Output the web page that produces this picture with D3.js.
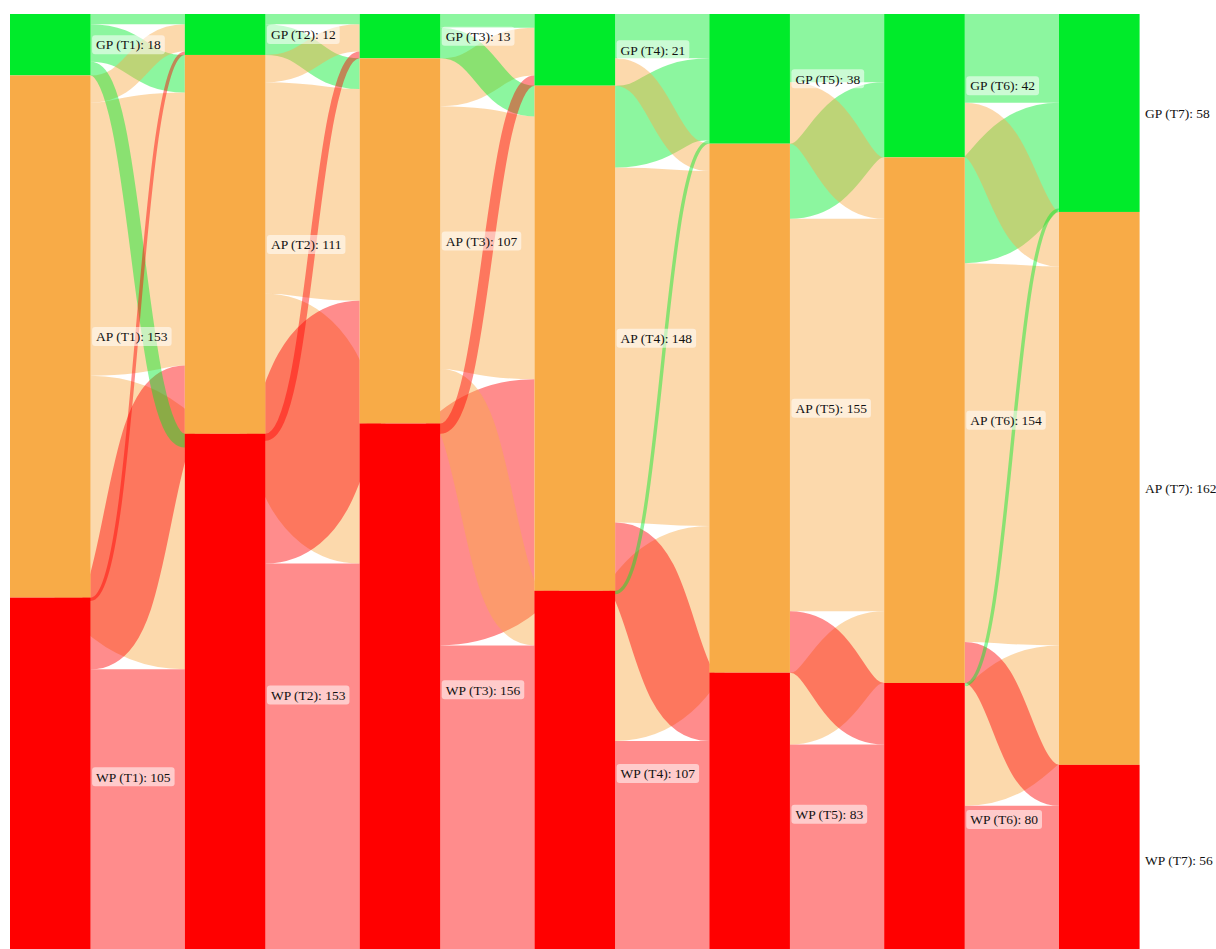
<!DOCTYPE html>
<html>
<head>
<meta charset="utf-8">
<script src="https://cdn.jsdelivr.net/npm/d3@7/dist/d3.min.js"></script>
<style>
  html, body { margin: 0; padding: 0; background: #fff; }
  svg { display: block; }
  .lbl { font-family: "Liberation Serif", "Times New Roman", serif; font-size: 13.5px; fill: #111; }
</style>
</head>
<body>
<svg id="chart" width="1216" height="949"></svg>
<script>
// ---------------- DATA ----------------
const timeLabels = ["T1", "T2", "T3", "T4", "T5", "T6", "T7"];
const states = ["GP", "AP", "WP"];
const gpValues = [18, 12, 13, 21, 38, 42, 58];
const apValues = [153, 111, 107, 148, 155, 154, 162];
const wpValues = [105, 153, 156, 107, 83, 80, 56];

// flows[from][to], rows/cols ordered GP, AP, WP
const flowsT1T2 = [[3, 11, 4], [8, 80, 65], [1, 20, 84]];
const flowsT2T3 = [[3, 9, 0], [8, 62, 41], [2, 36, 115]];
const flowsT3T4 = [[4, 9, 0], [14, 77, 16], [3, 62, 91]];
const flowsT4T5 = [[13, 8, 0], [24, 104, 20], [1, 43, 63]];
const flowsT5T6 = [[20, 18, 0], [22, 115, 18], [0, 21, 62]];
const flowsT6T7 = [[26, 16, 0], [31, 111, 12], [1, 35, 44]];
const transitions = [flowsT1T2, flowsT2T3, flowsT3T4, flowsT4T5, flowsT5T6, flowsT6T7];

// ---------------- STYLE ----------------
const stateColors = { GP: "#00eb2a", AP: "#f8ab47", WP: "#ff0000" };
const linkColorBy = ["source", "source", "source", "target", "target", "target"];
const linkOpacity = 0.45;
const nodeWidth = 80.6;

// ---------------- LAYOUT ----------------
const svg = d3.select("#chart");
const valuesByState = [gpValues, apValues, wpValues];
const total = d3.sum(valuesByState, v => v[0]);

const x = d3.scalePoint().domain(timeLabels).range([10, 1059]);
const y = d3.scaleLinear().domain([0, total]).range([14, 956]);
const k = y(1) - y(0);

// nodes
const nodes = [];
timeLabels.forEach((t, c) => {
  let cum = 0;
  states.forEach((s, i) => {
    const v = valuesByState[i][c];
    nodes.push({ time: t, col: c, state: s, idx: i, value: v, cum: cum,
                 y0: y(cum), y1: y(cum + v), x0: x(t), x1: x(t) + nodeWidth });
    cum += v;
  });
});
const nodeAt = (c, i) => nodes[c * 3 + i];

// links
const links = [];
transitions.forEach((flows, c) => {
  const srcPos = flows.map(() => []);
  flows.forEach((row, i) => {
    let off = 0;
    row.forEach((v, j) => { srcPos[i][j] = off; off += v; });
  });
  const tgtPos = flows.map(() => []);
  for (let j = 0; j < 3; j++) {
    let off = 0;
    for (let i = 0; i < 3; i++) { tgtPos[i][j] = off; off += flows[i][j]; }
  }
  flows.forEach((row, i) => {
    row.forEach((v, j) => {
      if (v <= 0) return;
      const sN = nodeAt(c, i), tN = nodeAt(c + 1, j);
      links.push({
        value: v,
        source: [sN.x1, y(sN.cum + srcPos[i][j] + v / 2)],
        target: [tN.x0, y(tN.cum + tgtPos[i][j] + v / 2)],
        color: stateColors[linkColorBy[c] === "source" ? states[i] : states[j]]
      });
    });
  });
});
// thicker links underneath, thinner ones on top
links.sort((a, b) => d3.descending(a.value, b.value));

const linkGen = d3.linkHorizontal().x(d => d[0]).y(d => d[1]);

svg.append("g")
  .selectAll("path")
  .data(links)
  .join("path")
  .attr("d", d => linkGen({ source: d.source, target: d.target }))
  .attr("fill", "none")
  .attr("stroke", d => d.color)
  .attr("stroke-opacity", linkOpacity)
  .attr("stroke-width", d => d.value * k);

svg.append("g")
  .selectAll("rect")
  .data(nodes)
  .join("rect")
  .attr("x", d => d.x0)
  .attr("y", d => d.y0)
  .attr("width", d => d.x1 - d.x0)
  .attr("height", d => d.y1 - d.y0)
  .attr("fill", d => stateColors[d.state]);

// labels
const lg = svg.append("g");
nodes.forEach(n => {
  const g = lg.append("g");
  const cy = (n.y0 + n.y1) / 2;
  const tx = n.x1 + 5.5;
  const txt = g.append("text")
    .attr("class", "lbl")
    .attr("x", tx)
    .attr("y", cy)
    .attr("dy", "0.35em")
    .text(`${n.state} (${n.time}): ${n.value}`);
  const w = txt.node().getComputedTextLength();
  g.insert("rect", "text")
    .attr("x", tx - 4)
    .attr("y", cy - 9.5)
    .attr("width", w + 8)
    .attr("height", 19)
    .attr("rx", 3)
    .attr("fill", "#fff")
    .attr("fill-opacity", 0.55);
});
</script>
</body>
</html>
